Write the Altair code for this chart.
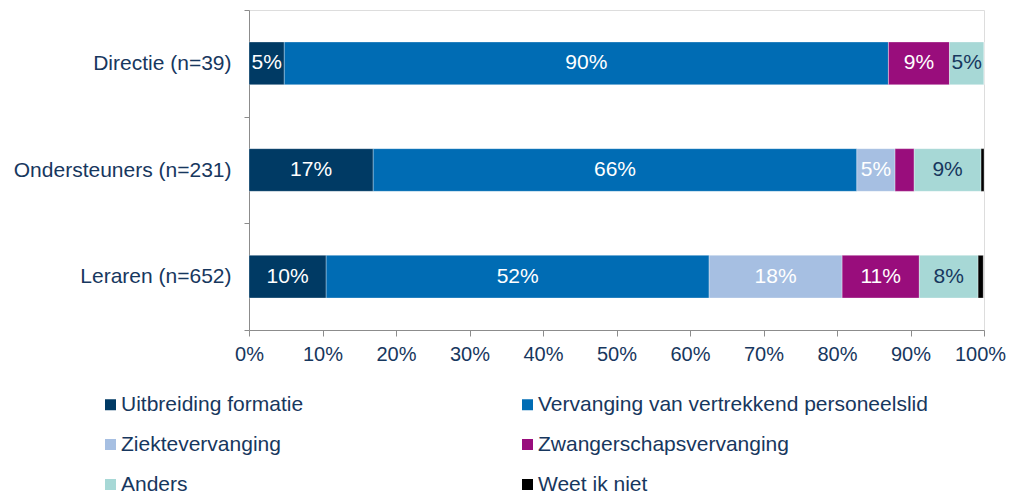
import altair as alt
import pandas as pd

groups = ["Directie (n=39)", "Ondersteuners (n=231)", "Leraren (n=652)"]
categories = ["Uitbreiding formatie", "Vervanging van vertrekkend personeelslid",
              "Ziektevervanging", "Zwangerschapsvervanging", "Anders", "Weet ik niet"]
colors = ["#003A64", "#006CB4", "#A6BFE2", "#990D7C", "#A7D8D6", "#000000"]

directie_vals = [0.048, 0.822, 0.0, 0.083, 0.047, 0.0]
ondersteuners_vals = [0.169, 0.658, 0.052, 0.026, 0.091, 0.004]
leraren_vals = [0.105, 0.521, 0.181, 0.105, 0.080, 0.007]

directie_labels = ["5%", "90%", "", "9%", "5%", ""]
ondersteuners_labels = ["17%", "66%", "5%", "", "9%", ""]
leraren_labels = ["10%", "52%", "18%", "11%", "8%", ""]

x_ticks = [0, 0.1, 0.2, 0.3, 0.4, 0.5, 0.6, 0.7, 0.8, 0.9, 1.0]

# legend is filled column by column: left column first, then right column
legend_order = [categories[0], categories[2], categories[4],
                categories[1], categories[3], categories[5]]

rows = []
for g, vals, labs in zip(groups,
                         [directie_vals, ondersteuners_vals, leraren_vals],
                         [directie_labels, ondersteuners_labels, leraren_labels]):
    for i, (c, v, l) in enumerate(zip(categories, vals, labs)):
        rows.append({"group": g, "cat": c, "value": v, "label": l, "order": i})
df = pd.DataFrame(rows)

navy = "#17375E"
FONT = "Liberation Sans"

base = alt.Chart(df)

bars = base.mark_bar(stroke="white", strokeWidth=0.6, strokeOpacity=0.5,
                     height={"band": 0.4}).encode(
    y=alt.Y("group:N", sort=groups, title=None,
            scale=alt.Scale(paddingInner=0, paddingOuter=0),
            axis=alt.Axis(tickBand="extent", tickSize=5, labelPadding=13,
                          labelFontSize=21, labelColor=navy, labelFont=FONT,
                          domainColor="#8C8C8C", tickColor="#8C8C8C",
                          labelLimit=400)),
    x=alt.X("value:Q", stack="zero", title=None,
            scale=alt.Scale(domain=[0, 1], nice=False),
            axis=alt.Axis(values=x_ticks, format=".0%", grid=False, tickSize=6,
                          labelPadding=8, labelFontSize=20, labelColor=navy,
                          labelFont=FONT, domainColor="#8C8C8C",
                          tickColor="#8C8C8C", labelFlush=False,
                          labelOffset={"condition": {"test": "datum.value >= 1", "value": -4},
                                       "value": 0})),
    color=alt.Color("cat:N", sort=categories,
                    scale=alt.Scale(domain=categories, range=colors),
                    legend=alt.Legend(title=None, orient="none", legendX=-149,
                                      legendY=384, columns=2, columnPadding=213,
                                      rowPadding=18, symbolType="square",
                                      symbolSize=121, symbolStrokeWidth=0,
                                      labelFontSize=21, labelColor=navy,
                                      labelFont=FONT, labelOffset=0,
                                      labelLimit=500, padding=0,
                                      values=legend_order)),
    order=alt.Order("order:Q"),
)

texts = base.transform_stack(
    stack="value", groupby=["group"], as_=["x0", "x1"],
    sort=[alt.SortField("order", order="ascending")]
).transform_calculate(
    mid="(datum.x0 + datum.x1) / 2"
).transform_filter(
    "datum.label != ''"
).mark_text(fontSize=21, font=FONT, baseline="middle", align="center").encode(
    y=alt.Y("group:N", sort=groups),
    x=alt.X("mid:Q"),
    text="label:N",
    color=alt.condition("datum.cat == 'Anders'", alt.value(navy), alt.value("white")),
)

chart = alt.layer(bars, texts).properties(
    width=735, height=320,
    autosize=alt.AutoSizeParams(type="none"),
    padding={"left": 241, "top": 2, "right": 22, "bottom": 164},
).configure_view(stroke=None).configure(font=FONT)

chart.save("out.html", embed_options={"renderer": "svg", "actions": False})
